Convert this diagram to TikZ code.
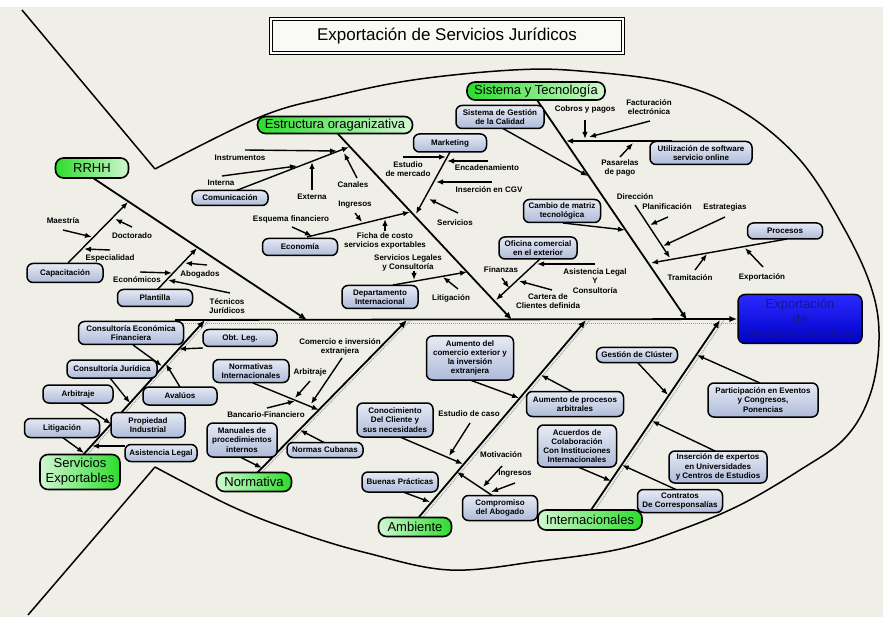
\documentclass[tikz,border=0pt]{standalone}
\usepackage{fontspec}
\setmainfont{Liberation Sans}
\usetikzlibrary{arrows.meta,calc}
\definecolor{bgc}{HTML}{EFEFE8}
\definecolor{subtop}{HTML}{E6EAF4}
\definecolor{subbot}{HTML}{AEBBD9}
\definecolor{catdark}{HTML}{2CDC2C}
\definecolor{catlight}{HTML}{D2F7D2}
\definecolor{headtop}{HTML}{2A2AFF}
\definecolor{headbot}{HTML}{0000C8}
\definecolor{headtxt}{HTML}{16168C}
\definecolor{shadowc}{HTML}{9A9AAA}
\newcommand{\mysmall}{\fontsize{8}{9.2}\selectfont\bfseries}
\newcommand{\mycat}{\fontsize{13}{15}\selectfont}
\pgfdeclarelayer{back}
\pgfdeclarelayer{lines}
\pgfsetlayers{back,lines,main}
\begin{document}
\begin{tikzpicture}[x=1pt,y=-1pt,
  fishline/.style={line width=1.5pt, line join=round},
  bone/.style={line width=1.8pt,-{Latex[length=8pt,width=6.5pt]}},
  subl/.style={line width=1.4pt,-{Latex[length=7pt,width=5.5pt]}},
  shadowl/.style={shadowc, line width=1pt, densely dotted},
  sbox/.style={draw, line width=1.5pt, rounded corners=6pt, top color=subtop, bottom color=subbot, font=\mysmall, align=center, inner sep=1pt},
  catbox/.style={draw, line width=1.6pt, rounded corners=8pt, font=\mycat, align=center, inner sep=1pt},
  catL/.style={catbox, left color=catdark, right color=catlight},
  catR/.style={catbox, left color=catlight, right color=catdark},
  lbl/.style={font=\mysmall, align=center, inner sep=0pt}]
\useasboundingbox (0,0) rectangle (883,617);
\begin{pgfonlayer}{back}
\fill[bgc] (0,0) rectangle (883,617);
\fill[white] (0,0) rectangle (883,7);
\end{pgfonlayer}

% ---------- title and head ----------
\node[draw, line width=1.2pt, double, double distance=2pt, fill=bgc!40!white, minimum width=352pt, minimum height=34pt, font=\fontsize{17}{17}\selectfont] (title) at (447,36) {Exportación de Servicios Jurídicos};
\node[draw, line width=1.5pt, rounded corners=7pt, top color=headtop, bottom color=headbot, minimum width=124pt, minimum height=49pt, font=\fontsize{13}{15}\selectfont, text=headtxt, align=center, inner sep=1pt] (head) at (800,319) {Exportación\\de\\Servicios Jurídicos};

% ---------- categories ----------
\node[catL, minimum width=73pt, minimum height=20pt] (rrhh) at (92,168) {RRHH};
\node[catL, minimum width=155pt, minimum height=17pt] (est) at (335,125) {Estructura oraganizativa};
\node[catL, minimum width=138pt, minimum height=18pt] (syt) at (536,91) {Sistema y Tecnología};
\node[catR, minimum width=80pt, minimum height=35pt] (sexp) at (80,472) {Servicios\\Exportables};
\node[catR, minimum width=75pt, minimum height=19pt] (norm) at (254,482) {Normativa};
\node[catR, minimum width=73pt, minimum height=19pt] (amb) at (415,527) {Ambiente};
\node[catR, minimum width=104pt, minimum height=20pt] (intl) at (590,520) {Internacionales};

% ---------- boxes ----------
\node[sbox, minimum width=76pt, minimum height=19pt] (cap) at (65,273) {Capacitación};
\node[sbox, minimum width=75pt, minimum height=17pt] (plan) at (155,298) {Plantilla};
\node[sbox, minimum width=76pt, minimum height=15pt] (com) at (230,198) {Comunicación};
\node[sbox, minimum width=75pt, minimum height=17pt] (econ) at (300,247) {Economía};
\node[sbox, minimum width=76pt, minimum height=23pt] (dep) at (380,297) {Departamento\\Internacional};
\node[sbox, minimum width=73pt, minimum height=18pt] (mkt) at (450,143) {Marketing};
\node[sbox, minimum width=88pt, minimum height=23pt] (sgc) at (500,117) {Sistema de Gestión\\de la Calidad};
\node[sbox, minimum width=102pt, minimum height=23pt] (soft) at (701,153) {Utilización de software\\servicio online};
\node[sbox, minimum width=77pt, minimum height=23pt] (cmt) at (562,211) {Cambio de matriz\\tecnológica};
\node[sbox, minimum width=78pt, minimum height=22pt] (ofi) at (538,248) {Oficina comercial\\en el exterior};
\node[sbox, minimum width=75pt, minimum height=16pt] (proc) at (785,231) {Procesos};
\node[sbox, minimum width=105pt, minimum height=23pt] (ceco) at (131,333) {Consultoría Económica\\Financiera};
\node[sbox, minimum width=74pt, minimum height=17pt] (obt) at (240,338) {Obt. Leg.};
\node[sbox, minimum width=90pt, minimum height=18pt] (cjur) at (112,369) {Consultoría Jurídica};
\node[sbox, minimum width=74pt, minimum height=18pt] (aval) at (180,396) {Avalúos};
\node[sbox, minimum width=70pt, minimum height=18pt] (arb) at (78,394) {Arbitraje};
\node[sbox, minimum width=74pt, minimum height=25pt] (prop) at (148,425) {Propiedad\\Industrial};
\node[sbox, minimum width=75pt, minimum height=19pt] (litg) at (62,428) {Litigación};
\node[sbox, minimum width=72pt, minimum height=17pt] (asis) at (161,453) {Asistencia Legal};
\node[sbox, minimum width=76pt, minimum height=23pt] (nint) at (251,371) {Normativas\\Internacionales};
\node[sbox, minimum width=70pt, minimum height=34pt] (man) at (242,440) {Manuales de\\procedimientos\\internos};
\node[sbox, minimum width=76pt, minimum height=15pt] (ncub) at (325,450) {Normas Cubanas};
\node[sbox, minimum width=87pt, minimum height=44pt] (aum) at (470,358) {Aumento del\\comercio exterior y\\la inversión\\extranjera};
\node[sbox, minimum width=97pt, minimum height=25pt] (aproc) at (575,404) {Aumento de procesos\\arbitrales};
\node[sbox, minimum width=76pt, minimum height=34pt] (cono) at (395,420) {Conocimiento\\Del Cliente y\\sus necesidades};
\node[sbox, minimum width=76pt, minimum height=20pt] (bue) at (400,482) {Buenas Prácticas};
\node[sbox, minimum width=75pt, minimum height=25pt] (comp) at (500,508) {Compromiso\\del Abogado};
\node[sbox, minimum width=81pt, minimum height=15pt] (gclu) at (637,355) {Gestión de Clúster};
\node[sbox, minimum width=110pt, minimum height=34pt] (part) at (763,400) {Participación en Eventos\\y Congresos,\\Ponencias};
\node[sbox, minimum width=79pt, minimum height=42pt] (acu) at (577,446) {Acuerdos de\\Colaboración\\Con Instituciones\\Internacionales};
\node[sbox, minimum width=98pt, minimum height=32pt] (insx) at (718,467) {Inserción de expertos\\en Universidades\\y Centros de Estudios};
\node[sbox, minimum width=85pt, minimum height=23pt] (cont) at (680,501) {Contratos\\De Corresponsalías};

% ---------- plain labels ----------
\node[lbl] (tmae) at (63,221) {Maestría};
\node[lbl] (tdoc) at (132,236) {Doctorado};
\node[lbl] (tesp) at (110,258) {Especialidad};
\node[lbl] (teco) at (137,280) {Económicos};
\node[lbl] (tabo) at (200,274) {Abogados};
\node[lbl] (ttec) at (227,306) {Técnicos\\Jurídicos};
\node[lbl] (tins) at (240,158) {Instrumentos};
\node[lbl] (titn) at (221,183) {Interna};
\node[lbl] (text) at (312,197) {Externa};
\node[lbl] (tcan) at (353,185) {Canales};
\node[lbl] (ting) at (355,205) {Ingresos};
\node[lbl] (tesq) at (291,219) {Esquema financiero};
\node[lbl] (tfic) at (385,241) {Ficha de costo\\servicios exportables};
\node[lbl] (tsl) at (408,263) {Servicios Legales\\y Consultoría};
\node[lbl] (tlit) at (451,298) {Litigación};
\node[lbl] (tem) at (408,169) {Estudio\\de mercado};
\node[lbl] (tenc) at (487,168) {Encadenamiento};
\node[lbl] (tcgv) at (489,190) {Inserción en CGV};
\node[lbl] (tser) at (455,223) {Servicios};
\node[lbl] (tfin) at (501,270) {Finanzas};
\node[lbl] (tal) at (595,281) {Asistencia Legal\\Y\\Consultoría};
\node[lbl] (tcar) at (548,301) {Cartera de\\Clientes definida};
\node[lbl] (tcob) at (585,109) {Cobros y pagos};
\node[lbl] (tfac) at (649,107) {Facturación\\electrónica};
\node[lbl] (tpas) at (620,168) {Pasarelas\\de pago};
\node[lbl] (tdir) at (635,197) {Dirección};
\node[lbl] (tpln) at (667,207) {Planificación};
\node[lbl] (testr) at (725,207) {Estrategias};
\node[lbl] (ttra) at (690,278) {Tramitación};
\node[lbl] (texp) at (762,277) {Exportación};
\node[lbl] (tcome) at (340,347) {Comercio e inversión\\extranjera};
\node[lbl] (tarbn) at (310,372) {Arbitraje};
\node[lbl] (tban) at (266,415) {Bancario-Financiero};
\node[lbl] (tedc) at (469,414) {Estudio de caso};
\node[lbl] (tmot) at (501,455) {Motivación};
\node[lbl] (tinga) at (515,474) {Ingresos};

% ---------- coordinates ----------
\coordinate (rrhhA) at (93,178); \coordinate (rrhhB) at (307,320);
\coordinate (estA) at (338,134); \coordinate (estB) at (512,320);
\coordinate (sytA) at (537,100); \coordinate (sytB) at (687,320);
\coordinate (sexA) at (83,455); \coordinate (sexB) at (205,320);
\coordinate (norA) at (257,473); \coordinate (norB) at (407,320);
\coordinate (ambA) at (419,517); \coordinate (ambB) at (586,320);
\coordinate (intA) at (591,510); \coordinate (intB) at (720,320);
\coordinate (spA) at (175,320);

\coordinate (capS) at (68,263); \coordinate (capE) at (128,202);
\coordinate (maeS) at (63,230); \coordinate (maeE) at (92,237);
\coordinate (docS) at (132,227); \coordinate (docE) at (115,219);
\coordinate (espS) at (110,250); \coordinate (espE) at (84,249);
\coordinate (plaS) at (157,290); \coordinate (plaE) at (197,248);
\coordinate (econS) at (140,272); \coordinate (econE) at (172,273);
\coordinate (aboS) at (207,265); \coordinate (aboE) at (185,263);
\coordinate (tecS) at (230,293); \coordinate (tecE) at (168,280);

\coordinate (comS) at (235,191); \coordinate (comE) at (349,147);
\coordinate (insS) at (245,150); \coordinate (insE) at (337,151);
\coordinate (itnS) at (222,176); \coordinate (itnE) at (297,166);
\coordinate (extS) at (312,190); \coordinate (extE) at (312,162);
\coordinate (canS) at (357,178); \coordinate (canE) at (344,153);
\coordinate (ecS) at (307,237); \coordinate (ecE) at (410,212);
\coordinate (esqS) at (292,227); \coordinate (esqE) at (312,236);
\coordinate (ingS) at (355,213); \coordinate (ingE) at (362,222);
\coordinate (ficS) at (385,231); \coordinate (ficE) at (385,219);
\coordinate (depS) at (393,285); \coordinate (depE) at (467,272);
\coordinate (slS) at (414,271); \coordinate (slE) at (414,280);
\coordinate (litS) at (458,289); \coordinate (litE) at (443,277);
\coordinate (mktS) at (450,152); \coordinate (mktE) at (416,214);
\coordinate (emS) at (403,157); \coordinate (emE) at (446,157);
\coordinate (encS) at (488,161); \coordinate (encE) at (447,161);
\coordinate (cgvS) at (492,182); \coordinate (cgvE) at (436,182);
\coordinate (serS) at (458,213); \coordinate (serE) at (429,199);
\coordinate (ofiS) at (540,259); \coordinate (ofiE) at (496,300);
\coordinate (finS) at (502,278); \coordinate (finE) at (509,288);
\coordinate (alS) at (595,264); \coordinate (alE) at (537,264);
\coordinate (carS) at (552,290); \coordinate (carE) at (519,281);

\coordinate (sgcS) at (502,128); \coordinate (sgcE) at (588,176);
\coordinate (sofS) at (672,141); \coordinate (sofE) at (566,141);
\coordinate (cobS) at (585,120); \coordinate (cobE) at (585,139);
\coordinate (facS) at (650,121); \coordinate (facE) at (589,137);
\coordinate (pasS) at (620,157); \coordinate (pasE) at (633,143);
\coordinate (cmtS) at (563,223); \coordinate (cmtE) at (625,230);
\coordinate (dirS) at (635,205); \coordinate (dirE) at (670,258);
\coordinate (plnS) at (668,217); \coordinate (plnE) at (650,225);
\coordinate (estrS) at (725,217); \coordinate (estrE) at (663,246);
\coordinate (proS) at (787,239); \coordinate (proE) at (651,263);
\coordinate (traS) at (695,270); \coordinate (traE) at (707,254);
\coordinate (expS) at (763,267); \coordinate (expE) at (745,248);

\coordinate (cecS) at (133,345); \coordinate (cecE) at (162,366);
\coordinate (obtS) at (203,348); \coordinate (obtE) at (179,349);
\coordinate (cjuS) at (110,378); \coordinate (cjuE) at (130,403);
\coordinate (avaS) at (180,387); \coordinate (avaE) at (166,364);
\coordinate (arbS) at (80,403); \coordinate (arbE) at (111,424);
\coordinate (litgS) at (62,437); \coordinate (litgE) at (84,453);
\coordinate (asiS) at (125,446); \coordinate (asiE) at (92,446);

\coordinate (nitS) at (253,383); \coordinate (nitE) at (319,410);
\coordinate (comeS) at (342,358); \coordinate (comeE) at (311,404);
\coordinate (arbnS) at (310,381); \coordinate (arbnE) at (295,398);
\coordinate (banS) at (267,408); \coordinate (banE) at (295,401);
\coordinate (manS) at (240,457); \coordinate (manE) at (262,468);
\coordinate (ncuS) at (325,443); \coordinate (ncuE) at (300,430);

\coordinate (aumS) at (470,380); \coordinate (aumE) at (519,398);
\coordinate (apS) at (573,392); \coordinate (apE) at (541,375);
\coordinate (conS) at (400,437); \coordinate (conE) at (463,464);
\coordinate (edcS) at (470,423); \coordinate (edcE) at (449,456);
\coordinate (bueS) at (403,492); \coordinate (bueE) at (430,502);
\coordinate (cmpS) at (493,496); \coordinate (cmpE) at (457,472);
\coordinate (motS) at (502,466); \coordinate (motE) at (483,487);
\coordinate (ingaS) at (515,483); \coordinate (ingaE) at (491,492);

\coordinate (gclS) at (638,363); \coordinate (gclE) at (668,395);
\coordinate (parS) at (760,383); \coordinate (parE) at (697,355);
\coordinate (acuS) at (578,467); \coordinate (acuE) at (611,481);
\coordinate (insxS) at (715,451); \coordinate (insxE) at (652,421);
\coordinate (ctrS) at (677,490); \coordinate (ctrE) at (622,465);

\begin{pgfonlayer}{lines}
% fish outline
\draw[fishline] (22,10) -- (155,169);
\draw[fishline] plot[smooth, tension=0.6] coordinates {(155,169) (260,117) (330,97) (413,80) (513,70) (580,71) (673,83) (740,110) (800,160) (845,230) (872,290) (879,340) (870,395) (845,438) (800,470) (740,505) (680,530) (620,549) (540,561) (450,570) (367,553) (300,533) (233,507) (155,467)};
\draw[fishline] (155,467) -- (28,615);

% shadows
\draw[shadowl] (175,323.5) -- (737,323.5);
\foreach \a/\b in {sexA/sexB, norA/norB, ambA/ambB, intA/intB}
  \draw[shadowl] ($(\a)+(4,0)$) -- ($(\b)+(4,0)$);

% spine and bones
\draw[bone] (spA) -- (head.west);
\draw[bone] (rrhhA) -- (rrhhB);
\draw[bone] (estA) -- (estB);
\draw[bone] (sytA) -- (sytB);
\draw[bone] (sexA) -- (sexB);
\draw[bone] (norA) -- (norB);
\draw[bone] (ambA) -- (ambB);
\draw[bone] (intA) -- (intB);

% sub connectors
\foreach \n in {cap,mae,doc,esp,pla,econ,abo,tec,
  com,ins,itn,ext,can,ec,esq,ing,fic,dep,sl,lit,mkt,em,enc,cgv,ser,ofi,fin,al,car,
  sgc,sof,cob,fac,pas,cmt,dir,pln,estr,pro,tra,exp,
  cec,obt,cju,ava,arb,litg,asi,
  nit,come,arbn,ban,man,ncu,
  aum,ap,con,edc,bue,cmp,mot,inga,
  gcl,par,acu,insx,ctr}
  \draw[subl] (\n S) -- (\n E);
\end{pgfonlayer}
\end{tikzpicture}
\end{document}
